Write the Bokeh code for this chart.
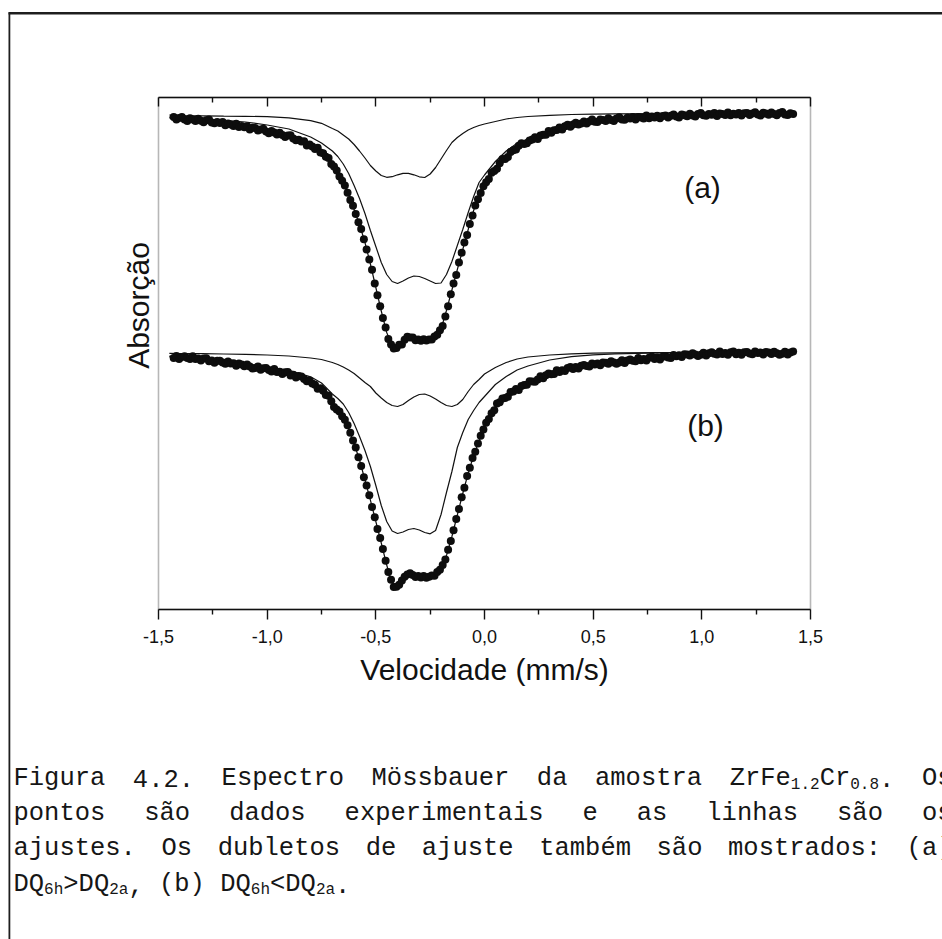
import math
import numpy as np
from bokeh.plotting import figure
from bokeh.models import (Range1d, LinearAxis, FixedTicker, CustomJSTickFormatter,
                          Label, BoxAnnotation)
from bokeh.embed import file_html
from bokeh.resources import INLINE

# ---------------------------------------------------------------- data
# velocity of the first and last channel (mm/s); channels are equally spaced
V_PRIMEIRO, V_ULTIMO = -1.43, 1.42

# measured spectra, arbitrary absorption units; (b) is drawn below (a)
medida_a = [
    492.4, 490.0, 491.5, 492.5, 489.9, 488.6, 491.2, 490.0, 488.6, 490.7,
    488.8, 487.3, 489.2, 489.9, 487.1, 486.2, 487.4, 486.4, 487.5, 484.2,
    486.1, 485.0, 483.6, 485.7, 482.4, 483.4, 482.2, 483.2, 480.0, 481.8,
    481.6, 478.9, 480.1, 480.8, 478.0, 476.3, 478.6, 477.0, 475.1, 476.8,
    474.4, 472.5, 474.1, 474.3, 470.9, 469.3, 469.8, 467.9, 468.2, 464.0,
    465.0, 463.1, 460.6, 461.7, 457.1, 456.3, 452.8, 451.5, 445.6, 443.1,
    439.1, 433.1, 428.8, 424.0, 416.8, 409.4, 403.7, 395.6, 387.3, 380.4,
    370.3, 360.0, 350.0, 339.7, 326.1, 314.2, 303.3, 291.4, 281.9, 270.4,
    265.0, 261.1, 261.4, 264.7, 265.1, 269.7, 272.7, 272.0, 272.0, 269.3,
    269.9, 268.7, 270.3, 269.0, 270.1, 270.1, 272.9, 274.8, 279.2, 283.5,
    293.1, 303.2, 315.3, 325.9, 334.5, 347.0, 356.8, 367.0, 374.6, 385.4,
    393.9, 404.1, 410.2, 416.4, 423.3, 427.2, 430.5, 436.8, 438.4, 440.8,
    446.2, 450.4, 450.6, 452.6, 457.6, 459.3, 459.9, 463.8, 466.2, 465.5,
    466.2, 469.1, 469.9, 472.2, 470.6, 474.0, 474.7, 474.7, 478.4, 476.7,
    479.2, 479.4, 481.9, 480.0, 483.3, 484.7, 482.7, 485.1, 486.7, 484.9,
    486.0, 488.0, 485.9, 488.1, 490.0, 487.7, 487.4, 489.9, 489.5, 488.4,
    491.2, 489.4, 488.5, 491.0, 492.2, 490.0, 489.7, 491.7, 490.9, 492.6,
    490.1, 492.4, 492.0, 491.1, 494.0, 491.2, 492.9, 492.0, 493.8, 491.3,
    493.5, 494.0, 492.0, 493.8, 495.1, 493.0, 492.0, 495.0, 494.3, 493.2,
    495.7, 494.1, 493.0, 495.4, 496.6, 494.2, 493.8, 495.4, 494.8, 496.4,
    493.5, 495.9, 495.4, 494.4, 497.1, 494.2, 495.8, 495.0, 496.6, 493.9,
    496.3, 496.6, 494.4, 496.1, 497.3, 495.0, 493.9, 496.8, 495.9, 494.7,
    497.1, 495.4, 494.2, 496.5, 497.6, 495.1, 494.6, 496.2, 495.5,
]
medida_b = [
    251.5, 253.4, 250.5, 252.5, 253.3, 251.5, 250.5, 253.2, 250.5, 251.0,
    249.1, 251.0, 251.2, 248.2, 249.1, 246.7, 248.7, 248.7, 246.9, 245.7,
    248.0, 246.0, 246.3, 243.8, 246.0, 244.9, 243.2, 244.9, 243.0, 240.9,
    241.5, 243.0, 239.7, 241.3, 241.6, 239.4, 238.1, 240.4, 237.5, 237.7,
    235.5, 237.3, 237.4, 234.1, 234.7, 232.0, 233.6, 233.1, 230.4, 228.3,
    229.0, 225.9, 224.8, 220.7, 221.3, 218.7, 214.6, 213.8, 208.3, 202.6,
    200.1, 198.1, 193.2, 189.8, 184.2, 176.8, 168.9, 161.9, 152.2, 143.6,
    132.3, 124.0, 114.3, 102.5, 92.2, 80.6, 71.4, 60.6, 48.8, 37.4,
    29.8, 22.4, 22.8, 24.7, 29.0, 32.7, 35.0, 36.2, 34.4, 32.6,
    33.6, 32.1, 33.4, 31.8, 32.7, 34.0, 33.7, 37.6, 39.7, 44.4,
    49.9, 59.8, 68.5, 79.3, 90.6, 100.6, 112.2, 121.8, 133.4, 141.7,
    151.5, 157.7, 165.9, 173.7, 179.9, 186.8, 190.6, 196.3, 199.3, 206.1,
    207.3, 211.1, 211.6, 212.8, 217.5, 217.9, 220.4, 219.5, 223.5, 224.6,
    224.8, 228.3, 228.1, 227.7, 229.9, 233.2, 231.3, 234.3, 236.1, 235.3,
    235.4, 239.2, 237.6, 239.2, 238.4, 241.4, 242.6, 240.6, 242.4, 240.9,
    243.8, 244.6, 243.5, 243.1, 246.1, 244.9, 245.9, 244.2, 247.0, 246.7,
    245.7, 248.2, 247.0, 245.7, 246.9, 249.2, 246.6, 249.0, 250.1, 248.7,
    248.2, 251.4, 249.3, 250.4, 249.1, 251.7, 252.7, 250.4, 251.9, 250.1,
    252.7, 253.3, 252.0, 251.5, 254.5, 253.2, 254.2, 252.4, 255.2, 254.9,
    253.9, 256.3, 255.0, 253.6, 254.7, 256.8, 254.1, 256.3, 257.3, 255.7,
    254.9, 257.9, 255.5, 256.4, 254.8, 257.2, 257.9, 255.3, 256.7, 254.7,
    257.2, 257.6, 256.1, 255.3, 258.0, 256.4, 257.1, 255.0, 257.5, 256.9,
    255.6, 257.8, 256.3, 254.7, 255.7, 257.7, 254.9, 257.0, 257.9,
]

# velocities at which the fitted curves are tabulated (mm/s)
v_ajuste = [
    -1.45, -1.40, -1.30, -1.20, -1.10, -1.00, -0.90, -0.80, -0.75, -0.70,
    -0.675, -0.65, -0.625, -0.60, -0.575, -0.55, -0.525, -0.50, -0.475, -0.45,
    -0.425, -0.40, -0.375, -0.35, -0.325, -0.30, -0.275, -0.25, -0.225, -0.20,
    -0.175, -0.15, -0.125, -0.10, -0.075, -0.05, -0.025, 0.00, 0.05, 0.10,
    0.15, 0.20, 0.30, 0.40, 0.50, 0.60, 0.80, 1.00, 1.20, 1.42,
]

# fit (a): total curve and the two quadrupole doublets
ajuste_total_a = [
    491.7, 491.0, 489.0, 486.2, 482.7, 478.5, 473.0, 464.0, 457.5, 445.0,
    437.0, 426.0, 414.5, 400.0, 385.0, 367.0, 345.5, 322.0, 298.5, 277.0,
    264.0, 264.5, 268.0, 271.5, 271.5, 270.0, 269.5, 270.5, 274.0, 280.5,
    299.0, 319.5, 340.0, 360.0, 380.0, 399.0, 414.5, 424.5, 440.0, 453.0,
    462.0, 467.5, 477.5, 484.0, 488.0, 490.2, 492.8, 494.7, 495.6, 495.7,
]
dubleto1_a = [
    494.5, 494.0, 493.7, 493.4, 493.2, 492.8, 491.7, 488.8, 486.2, 481.0,
    478.5, 474.5, 470.5, 465.0, 458.5, 451.5, 444.0, 438.5, 434.0, 432.2,
    432.8, 434.7, 436.2, 436.2, 434.7, 432.7, 432.0, 435.5, 442.0, 450.5,
    459.0, 467.0, 472.0, 476.0, 479.5, 482.0, 484.0, 485.5, 488.0, 490.5,
    492.0, 493.0, 494.2, 495.0, 495.4, 495.6, 495.8, 496.0, 496.0, 496.0,
]
dubleto2_a = [
    492.5, 492.0, 490.5, 489.2, 487.5, 484.5, 480.5, 472.5, 466.5, 458.5,
    453.0, 445.5, 436.0, 424.0, 411.0, 396.0, 379.0, 363.0, 347.0, 335.0,
    328.0, 326.0, 328.5, 331.5, 333.5, 333.0, 331.0, 328.5, 326.0, 326.5,
    335.0, 348.0, 364.0, 380.0, 397.0, 413.0, 427.0, 434.5, 448.0, 458.5,
    466.3, 470.5, 479.0, 485.0, 489.0, 490.5, 493.0, 494.8, 495.6, 495.8,
]

# fit (b)
ajuste_total_b = [
    252.6, 252.0, 250.3, 247.2, 243.9, 239.9, 235.6, 227.2, 219.5, 206.5,
    199.3, 192.2, 180.8, 166.0, 149.5, 129.5, 109.3, 88.0, 66.5, 44.5,
    26.0, 23.5, 30.0, 35.5, 34.1, 32.8, 32.5, 32.9, 35.5, 41.6,
    53.9, 73.0, 94.5, 116.0, 136.3, 154.0, 168.5, 182.9, 201.9, 212.8,
    220.3, 226.2, 235.1, 241.2, 244.8, 247.3, 251.7, 255.5, 256.3, 256.5,
]
dubleto1_b = [
    256.2, 256.0, 255.8, 255.5, 255.2, 254.5, 253.5, 251.5, 250.0, 247.0,
    245.0, 242.5, 239.5, 236.0, 231.5, 227.0, 223.0, 216.5, 211.5, 207.0,
    204.0, 203.0, 205.0, 209.0, 212.5, 215.0, 215.5, 213.5, 210.5, 207.0,
    204.0, 203.0, 205.0, 210.0, 218.0, 225.0, 230.0, 235.5, 242.0, 247.0,
    250.5, 252.5, 254.5, 255.7, 256.3, 256.6, 256.8, 256.9, 257.0, 257.0,
]
dubleto2_b = [
    253.4, 253.0, 251.5, 248.7, 245.7, 242.4, 239.1, 232.7, 226.5, 215.5,
    211.0, 205.5, 197.0, 186.0, 173.0, 159.0, 143.0, 124.0, 104.0, 88.0,
    78.5, 76.0, 77.5, 80.0, 81.0, 79.5, 77.0, 75.7, 79.0, 95.0,
    117.0, 138.0, 162.0, 177.0, 190.0, 199.0, 207.0, 213.0, 225.0, 233.0,
    239.5, 243.5, 249.5, 252.8, 254.6, 255.6, 256.5, 256.8, 256.9, 257.0,
]

# velocity axis
ticks_x = [-1.5, -1.0, -0.5, 0.0, 0.5, 1.0, 1.5]
ticks_x_menores = [-1.25, -0.75, -0.25, 0.25, 0.75, 1.25]
rotulos_x = ["-1,5", "-1,0", "-0,5", "0,0", "0,5", "1,0", "1,5"]

# figure caption; pieces starting with "_" are subscripts
legenda = [
    [["Figura"], ["4.2."], ["Espectro"], ["Mössbauer"], ["da"], ["amostra"],
     ["ZrFe", "_1.2", "Cr", "_0.8", "."], ["Os"]],
    [[w] for w in "pontos são dados experimentais e as linhas são os".split()],
    [[w] for w in "ajustes. Os dubletos de ajuste também são mostrados: (a)".split()],
    [["DQ", "_6h", ">DQ", "_2a", ","], ["(b)"], ["DQ", "_6h", "<DQ", "_2a", "."]],
]

# ---------------------------------------------------------------- page
W, H = 942, 939
FL, FR, FT, FB = 158, 810, 97, 609          # spectrum box on the page (px)
X0, X1, Y0, Y1 = -1.5, 1.5, 0.0, 512.0      # spectrum box in data units


def sx(px):
    return X0 + (px - FL) * (X1 - X0) / (FR - FL)


def sy(py):
    return Y0 + (FB - py) * (Y1 - Y0) / (FB - FT)


# the drawing area spans the whole page so the caption and page rules fit in it
p = figure(width=W, height=H,
           x_range=Range1d(sx(0), sx(W)), y_range=Range1d(sy(H), sy(0)),
           output_backend="svg", toolbar_location=None, y_axis_location=None,
           min_border=0, min_border_left=0, min_border_right=0,
           min_border_top=0, min_border_bottom=0)
p.background_fill_color = "white"
p.border_fill_color = "white"
p.outline_line_color = None
p.xgrid.visible = False
p.ygrid.visible = False

INK = "#111111"

fmt = CustomJSTickFormatter(args=dict(valores=ticks_x, textos=rotulos_x), code="""
    const i = valores.findIndex(t => Math.abs(t - tick) < 1e-9);
    return i >= 0 ? textos[i] : "";
""")

ax = p.xaxis[0]
ax.fixed_location = Y0
ax.bounds = (X0, X1)
ax.ticker = FixedTicker(ticks=ticks_x, minor_ticks=ticks_x_menores)
ax.formatter = fmt
ax.axis_line_color = INK
ax.axis_line_width = 1.6
ax.major_tick_line_color = INK
ax.minor_tick_line_color = INK
ax.major_tick_line_width = 1.4
ax.minor_tick_line_width = 1.4
ax.major_tick_in, ax.major_tick_out = 0, 10
ax.minor_tick_in, ax.minor_tick_out = 0, 5
ax.major_label_standoff = 10
ax.major_label_text_font = "Liberation Sans"
ax.major_label_text_font_size = "18px"
ax.major_label_text_color = INK
ax.axis_label = "Velocidade (mm/s)"
ax.axis_label_text_font = "Liberation Sans"
ax.axis_label_text_font_size = "30px"
ax.axis_label_text_font_style = "normal"
ax.axis_label_text_color = INK
ax.axis_label_standoff = 7

top = LinearAxis(fixed_location=Y1, bounds=(X0, X1),
                 ticker=FixedTicker(ticks=ticks_x, minor_ticks=ticks_x_menores),
                 axis_line_color=INK, axis_line_width=1.6,
                 major_label_text_color=None,
                 major_tick_in=9, major_tick_out=0, minor_tick_in=5, minor_tick_out=0,
                 major_tick_line_color=INK, minor_tick_line_color=INK,
                 major_tick_line_width=1.4, minor_tick_line_width=1.4)
p.add_layout(top, "above")

# side edges of the spectrum box
p.add_layout(BoxAnnotation(left=X0, right=X1, bottom=Y0, top=Y1,
                           fill_alpha=0.0, line_color=INK, line_width=1.6))

# fitted curves
for serie in (ajuste_total_a, dubleto1_a, dubleto2_a,
              ajuste_total_b, dubleto1_b, dubleto2_b):
    p.line(v_ajuste, serie, line_color=INK, line_width=1.2)

# experimental points
v_canal = np.linspace(V_PRIMEIRO, V_ULTIMO, len(medida_a))
for medida in (medida_a, medida_b):
    p.scatter(v_canal, medida, marker="circle", size=8,
              fill_color="#0d0d0d", line_color=None)

# panel letters and y title
SANS = "Liberation Sans"
p.add_layout(Label(x=sx(702), y=sy(187), text="(a)", text_font=SANS,
                   text_font_size="30px", text_align="center",
                   text_baseline="alphabetic", text_color=INK))
p.add_layout(Label(x=sx(705), y=sy(425), text="(b)", text_font=SANS,
                   text_font_size="30px", text_align="center",
                   text_baseline="alphabetic", text_color=INK))
p.add_layout(Label(x=sx(138), y=sy(305), text="Absorção", angle=math.pi / 2,
                   text_font=SANS, text_font_size="30px", text_align="center",
                   text_baseline="alphabetic", text_color=INK))

# page rules (top and left)
p.add_layout(BoxAnnotation(left=sx(8), right=sx(W + 5), top=sy(11.5), bottom=sy(14),
                           fill_color="#1e1e1e", fill_alpha=1.0, line_alpha=0.0))
p.add_layout(BoxAnnotation(left=sx(8), right=sx(9.8), top=sy(12), bottom=sy(H + 5),
                           fill_color="#1e1e1e", fill_alpha=1.0, line_alpha=0.0))

# caption, justified to the text block width
MONO = "Liberation Mono"
CAP_SIZE, SUB_SIZE, ADV = 25.5, 16.0, 0.6
CAP_LEFT, CAP_RIGHT = 13, 952
BASELINES = [778, 813, 848, 884]
NBSP = "\u00a0"


def pieces(word):
    return [(w[1:], True) if w.startswith("_") else (w, False) for w in word]


def width(word):
    return sum(len(t) * ADV * (SUB_SIZE if s else CAP_SIZE) for t, s in pieces(word))


for n, (linha, base) in enumerate(zip(legenda, BASELINES)):
    total = sum(width(w) for w in linha)
    if n < len(legenda) - 1:
        gap = (CAP_RIGHT - CAP_LEFT - total) / (len(linha) - 1)
    else:
        gap = ADV * CAP_SIZE
    x = CAP_LEFT
    for word in linha:
        for t, sub in pieces(word):
            size = SUB_SIZE if sub else CAP_SIZE
            adv = ADV * size
            x_txt, txt = x, t
            if len(t) == 1 and t.isalpha():
                # a lone letter is written after a blank so it keeps the line's baseline
                x_txt, txt = x - adv, NBSP + t
            p.add_layout(Label(x=sx(x_txt), y=sy(base + (5 if sub else 0)), text=txt,
                               text_font=MONO, text_font_size=f"{size}px",
                               text_align="left", text_baseline="alphabetic",
                               text_color="#161616"))
            x += len(t) * adv
        x += gap

open("out.html", "w").write(file_html(p, INLINE))
